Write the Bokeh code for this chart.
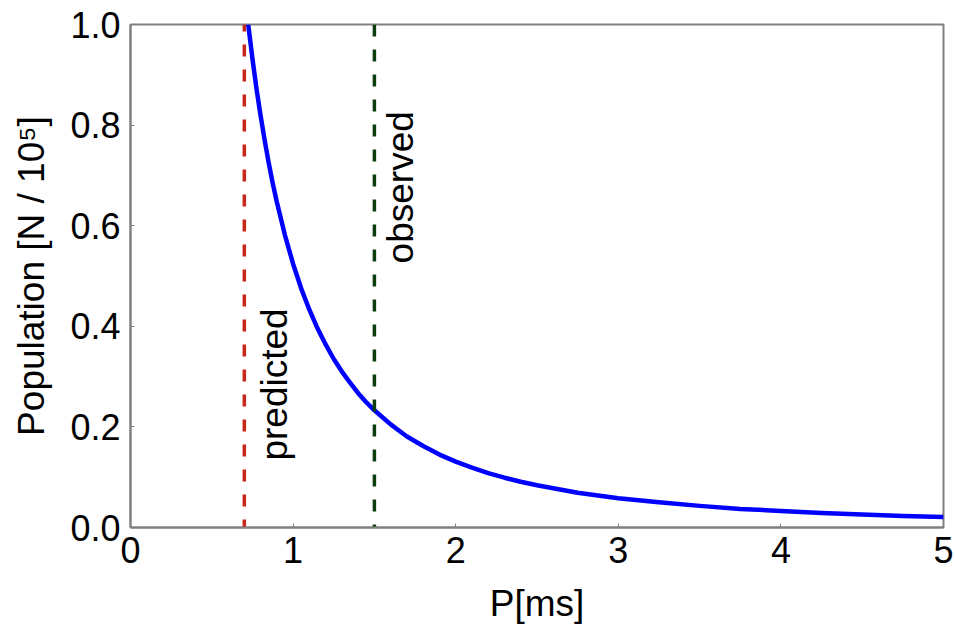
import math
from bokeh.plotting import figure
from bokeh.models import ColumnDataSource
from bokeh.core.properties import value
from bokeh.embed import file_html
from bokeh.resources import INLINE

# Curve: population (N / 1e5) vs P [ms]
period_ms = [0.724, 0.75, 0.775, 0.8, 0.825, 0.85, 0.875, 0.9, 0.95, 1.0, 1.05,
             1.1, 1.15, 1.2, 1.25, 1.3, 1.35, 1.4, 1.45, 1.5, 1.6, 1.7, 1.8, 1.9,
             2.0, 2.1, 2.2, 2.3, 2.4, 2.5, 2.75, 3.0, 3.25, 3.5, 3.75, 4.0, 4.25,
             4.5, 4.75, 5.0]
population = [1.000, 0.932, 0.872, 0.819, 0.770, 0.725, 0.684, 0.647, 0.581, 0.524,
              0.475, 0.433, 0.396, 0.364, 0.335, 0.310, 0.288, 0.267, 0.249, 0.233,
              0.205, 0.181, 0.162, 0.145, 0.131, 0.119, 0.108, 0.099, 0.091, 0.084,
              0.069, 0.058, 0.050, 0.043, 0.037, 0.033, 0.029, 0.026, 0.023, 0.021]

# Vertical markers
marker_names = ["predicted", "observed"]
marker_p = [0.70, 1.50]
marker_colors = ["#c8261a", "#0d3f0d"]

x_ticks = [0, 1, 2, 3, 4, 5]
y_ticks = [0.0, 0.2, 0.4, 0.6, 0.8, 1.0]

FONT = "Liberation Sans"
GRAY = "#808080"

p = figure(width=955, height=631, x_range=(0, 5), y_range=(0, 1),
           output_backend="svg", toolbar_location=None,
           min_border_left=130, min_border_right=12,
           min_border_top=24, min_border_bottom=104)

p.background_fill_color = "white"
p.border_fill_color = "white"
p.outline_line_color = GRAY
p.outline_line_width = 2
p.xgrid.visible = False
p.ygrid.visible = False

src = ColumnDataSource(dict(x=period_ms, y=population))
p.line("x", "y", source=src, line_color="#0000ff", line_width=4.5,
       line_join="round")

for name, xp, col, off, ylab, dash_off in zip(
        marker_names, marker_p, marker_colors, [30, 26], [0.133, 0.525], [5, 0]):
    p.line([xp, xp], [1.0, 0.0], line_color=col, line_width=3.5,
           line_dash="12 13", line_dash_offset=dash_off)
    p.text(x=[xp], y=[ylab], text=[name], angle=math.pi / 2,
           x_offset=off, text_align="left", text_baseline="middle",
           text_font=value(FONT), text_font_size="37px", text_color="black")

for ax in (p.xaxis[0], p.yaxis[0]):
    ax.axis_line_color = GRAY
    ax.axis_line_width = 2
    ax.major_tick_line_color = GRAY
    ax.major_tick_in = 4
    ax.major_tick_out = 0
    ax.minor_tick_line_color = None
    ax.major_label_text_font = FONT
    ax.major_label_text_font_size = "36px"
    ax.major_label_text_color = "black"
    ax.axis_label_text_font = FONT
    ax.axis_label_text_font_style = "normal"
    ax.axis_label_text_color = "black"

p.xaxis.axis_label_text_font_size = "37px"
p.yaxis.axis_label_text_font_size = "37px"
p.xaxis.ticker = x_ticks
p.yaxis.ticker = y_ticks
p.xaxis.major_label_overrides = {t: str(t) for t in x_ticks}
p.yaxis.major_label_overrides = {t: f"{t:.1f}" for t in y_ticks}
p.xaxis.axis_label = "P[ms]"
p.yaxis.axis_label = "Population [N / 10\u2075]"
p.xaxis.major_label_standoff = 9
p.yaxis.major_label_standoff = 10
p.xaxis.axis_label_standoff = 17
p.yaxis.axis_label_standoff = 15

open("out.html", "w").write(file_html(p, INLINE))
